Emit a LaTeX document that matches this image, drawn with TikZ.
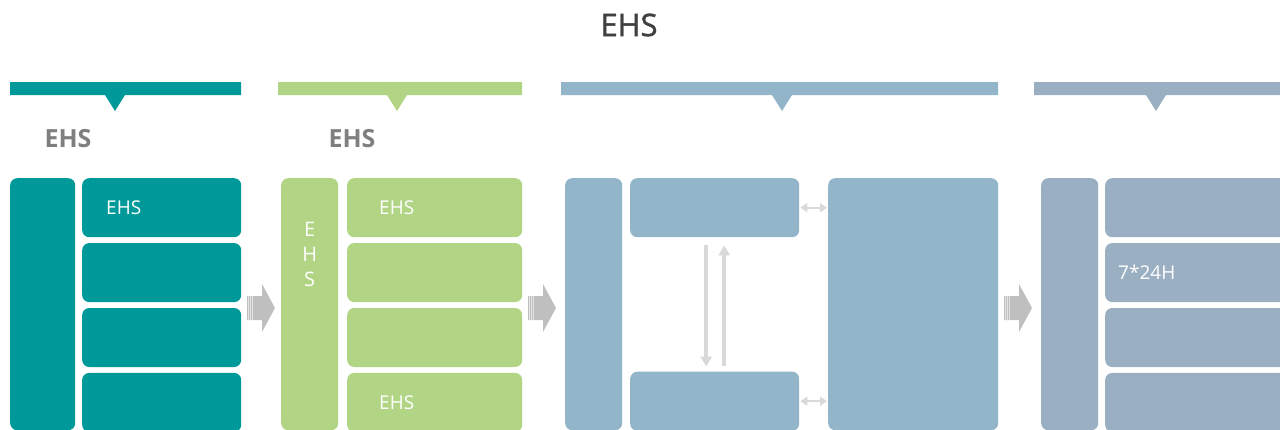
\documentclass[tikz,border=0pt]{standalone}
\usepackage{fontspec}
\setmainfont{Open Sans}
\newfontfamily\titlefont[FakeBold=1.3]{Open Sans}
\usetikzlibrary{positioning, arrows.meta}
\definecolor{tealc}{RGB}{0,153,153}
\definecolor{greenc}{RGB}{178,213,133}
\definecolor{bluec}{RGB}{146,181,201}
\definecolor{slatec}{RGB}{154,175,194}
\definecolor{flowgray}{RGB}{191,191,191}
\definecolor{linkgray}{RGB}{217,217,217}
\definecolor{headgray}{RGB}{127,127,127}
\definecolor{titlegray}{RGB}{64,64,64}
\tikzset{
	blk/.style={fill=#1, draw=none, rounded corners=7pt, inner sep=0pt, text=white,
		font=\fontsize{19}{25}\selectfont}, % Cajas redondeadas
	tall/.style={blk=#1, anchor=north west, minimum height=252pt}, % Columna lateral
	row/.style={blk=#1, minimum height=59pt}, % Filas de cada columna
	link/.style={linkgray, line width=2pt, {Triangle[length=7pt,width=9pt]}-{Triangle[length=7pt,width=9pt]}},
	vlink/.style={linkgray, line width=4pt, -{Triangle[length=10pt,width=11pt]}},
	subhead/.style={text=headgray, font=\fontsize{25}{25}\selectfont\bfseries},
	title/.style={text=titlegray, font=\fontsize{31}{31}\selectfont\titlefont}
}
% Barra superior con pico: x1, x2, centro, color
\newcommand{\banner}[4]{\fill[#4] (#1,82) -- (#2,82) -- (#2,95) -- (#3+10,95) -- (#3,111) -- (#3-10,95) -- (#1,95) -- cycle;}
% Flecha gruesa entre columnas, centrada en #1
\newcommand{\flowarrow}[1]{%
	\fill[flowgray] (#1) ++(-14,-12) -- ++(15,0) -- ++(0,-12) -- ++(13,24) -- ++(-13,24) -- ++(0,-12) -- ++(-15,0) -- cycle;
	\foreach \dx in {-13,-11,-9}
		\draw[white!60!flowgray, line width=0.6pt] (#1) ++(\dx,-12) -- ++(0,24);}

\begin{document}
\begin{tikzpicture}[x=1pt, y=-1pt]
	\useasboundingbox (0,0) rectangle (1280,429);
	\clip (0,0) rectangle (1280,429);

	\node[title] (ttl) at (629,25) {EHS};

	\banner{10}{241}{115}{tealc}
	\banner{278}{522}{397}{greenc}
	\banner{561}{998}{782}{bluec}
	\banner{1034}{1290}{1156}{slatec}

	\node[subhead] (h1) at (68,139) {EHS};
	\node[subhead] (h2) at (352,139) {EHS};

	% Columna 1
	\node[tall=tealc, minimum width=65pt] (t0) at (10,178) {};
	\node[row=tealc, minimum width=159pt, anchor=north west, text width=111pt, inner xsep=24pt, align=left] (t1) at (82,178) {EHS};
	\node[row=tealc, minimum width=159pt, below=5.5pt of t1] (t2) {};
	\node[row=tealc, minimum width=159pt, below=5.5pt of t2] (t3) {};
	\node[row=tealc, minimum width=159pt, below=5.5pt of t3] (t4) {};

	\coordinate (f1) at (261,308);
	\flowarrow{f1}

	% Columna 2
	\node[tall=greenc, minimum width=57pt] (g0) at (281,178) {};
	\node[text=white, font=\fontsize{20}{25}\selectfont, align=center, inner sep=0pt, below=44pt of g0.north] (g0t) {E\\H\\S};
	\node[row=greenc, minimum width=175pt, anchor=north west, text width=111pt, inner xsep=32pt, align=left] (g1) at (347,178) {EHS};
	\node[row=greenc, minimum width=175pt, below=5.5pt of g1] (g2) {};
	\node[row=greenc, minimum width=175pt, below=5.5pt of g2] (g3) {};
	\node[row=greenc, minimum width=175pt, below=5.5pt of g3, text width=111pt, inner xsep=32pt, align=left] (g4) {EHS};

	\coordinate (f2) at (542,308);
	\flowarrow{f2}

	% Columna 3
	\node[tall=bluec, minimum width=57pt] (b0) at (565,178) {};
	\node[row=bluec, minimum width=169pt, anchor=north west] (b1) at (630,178) {};
	\node[row=bluec, minimum width=169pt, anchor=north west] (b2) at (630,371.5) {};
	\node[tall=bluec, minimum width=170pt] (b3) at (828,178) {};
	\draw[link, shorten <=1pt, shorten >=1pt] (b1.east) -- (b1.east -| b3.west);
	\draw[link, shorten <=1pt, shorten >=1pt] (b2.east) -- (b2.east -| b3.west);
	\draw[vlink, shorten <=8pt, shorten >=5pt] ([xshift=-8.5pt]b1.south) -- ([xshift=-8.5pt]b2.north);
	\draw[vlink, shorten <=6pt, shorten >=8pt] ([xshift=9.5pt]b2.north) -- ([xshift=9.5pt]b1.south);

	\coordinate (f3) at (1018,308);
	\flowarrow{f3}

	% Columna 4
	\node[tall=slatec, minimum width=57pt] (s0) at (1041,178) {};
	\node[row=slatec, minimum width=185pt, anchor=north west] (s1) at (1105,178) {};
	\node[row=slatec, minimum width=185pt, below=5.5pt of s1, text width=159pt, inner xsep=13pt, align=left] (s2) {7*24H};
	\node[row=slatec, minimum width=185pt, below=5.5pt of s2] (s3) {};
	\node[row=slatec, minimum width=185pt, below=5.5pt of s3] (s4) {};
\end{tikzpicture}
\end{document}
